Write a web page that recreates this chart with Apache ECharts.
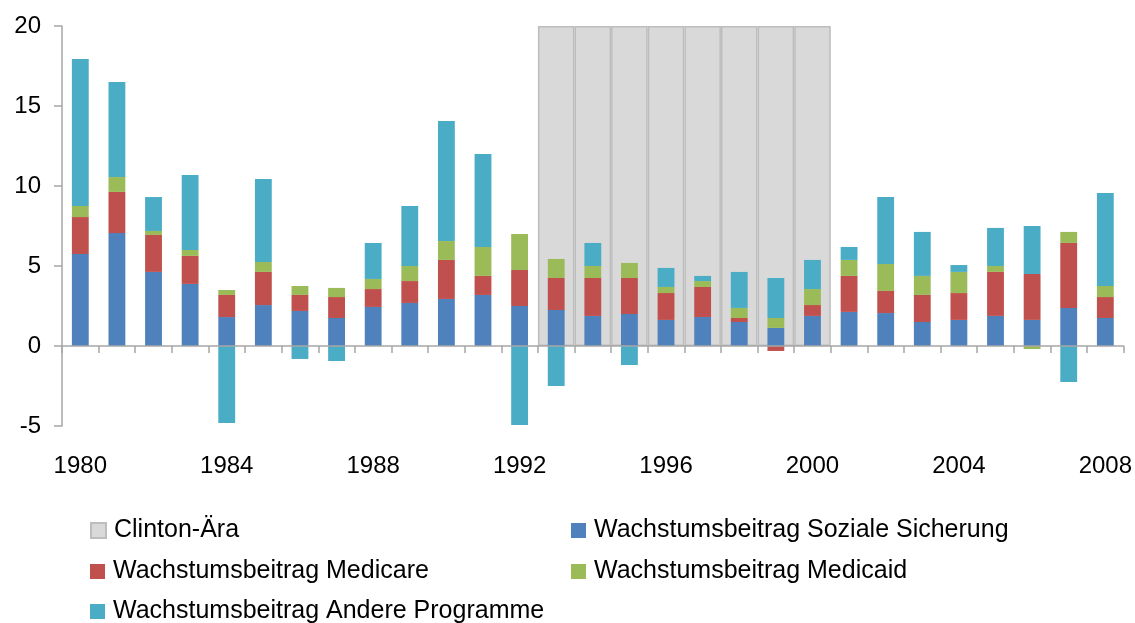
<!DOCTYPE html>
<html>
<head>
<meta charset="utf-8">
<script src="https://cdn.jsdelivr.net/npm/echarts@6/dist/echarts.min.js"></script>
<style>
  html, body { margin: 0; padding: 0; background: #fff; }
  #chart { width: 1135px; height: 623px; }
</style>
</head>
<body>
<div id="chart"></div>
<script>
// Jahre 1980 - 2008
var years = ['1980','1981','1982','1983','1984','1985','1986','1987','1988','1989',
             '1990','1991','1992','1993','1994','1995','1996','1997','1998','1999',
             '2000','2001','2002','2003','2004','2005','2006','2007','2008'];

// Clinton-Ära 1993-2000 (grauer Hintergrund)
var clintonEra = ['-','-','-','-','-','-','-','-','-','-',
                  '-','-','-',20,20,20,20,20,20,20,
                  20,'-','-','-','-','-','-','-','-'];

var sozialeSicherung = [5.75, 7.06, 4.63, 3.88, 1.81, 2.56, 2.19, 1.75, 2.44, 2.69,
                        2.94, 3.19, 2.5, 2.25, 1.88, 2.0, 1.63, 1.81, 1.5, 1.13,
                        1.88, 2.13, 2.06, 1.5, 1.63, 1.88, 1.63, 2.38, 1.75];
var medicare = [2.31, 2.57, 2.31, 1.75, 1.38, 2.07, 1.0, 1.31, 1.12, 1.37,
                2.44, 1.19, 2.25, 2.0, 2.37, 2.25, 1.68, 1.88, 0.25, -0.31,
                0.68, 2.25, 1.38, 1.69, 1.68, 2.75, 2.87, 4.06, 1.31];
var medicaid = [0.69, 0.93, 0.25, 0.37, 0.31, 0.62, 0.56, 0.57, 0.63, 0.94,
                1.18, 1.81, 2.25, 1.19, 0.75, 0.94, 0.38, 0.37, 0.63, 0.62,
                1.0, 1.0, 1.69, 1.19, 1.32, 0.37, -0.19, 0.69, 0.69];
var anderePrograme = [9.19, 5.94, 2.12, 4.69, -4.81, 5.19, -0.81, -0.94, 2.25, 3.75,
                      7.5, 5.81, -4.94, -2.5, 1.44, -1.19, 1.19, 0.32, 2.25, 2.5,
                      1.82, 0.81, 4.18, 2.75, 0.43, 2.38, 3.0, -2.25, 5.81];

var axisGrey = '#a6a6a6';
var font = 'Liberation Sans, Arial, sans-serif';

var chart = echarts.init(document.getElementById('chart'));

function stackBar(name, data, color) {
	return {
		name: name,
		type: 'bar',
		stack: 'gesamt',
		xAxisIndex: 0,
		barWidth: '46%',
		itemStyle: { color: color },
		data: data
	};
}

// ein Legendeneintrag pro Position
function legendItem(name, left, top) {
	return {
		data: [name],
		left: left, top: top,
		itemWidth: 15, itemHeight: 15,
		icon: 'rect',
		padding: 0,
		textStyle: { fontSize: 25, color: '#000', fontFamily: font, padding: [0, 0, 0, 3] }
	};
}

chart.setOption({
	animation: false,
	textStyle: { fontFamily: font },
	grid: { left: 62, right: 10, top: 26, bottom: 197, containLabel: false },
	legend: [
		legendItem('Clinton-Ära', 90, 518),
		legendItem('Wachstumsbeitrag Soziale Sicherung', 571, 518),
		legendItem('Wachstumsbeitrag Medicare', 90, 559),
		legendItem('Wachstumsbeitrag Medicaid', 571, 559),
		legendItem('Wachstumsbeitrag Andere Programme', 90, 599)
	],
	xAxis: [
		{
			// Beschriftung unten
			type: 'category',
			data: years,
			position: 'bottom',
			axisLine: { show: false, onZero: false },
			axisTick: { show: false },
			axisLabel: { interval: 3, margin: 28, fontSize: 24, color: '#000' }
		},
		{
			// Nulllinie mit Strichen
			type: 'category',
			data: years,
			position: 'bottom',
			z: 5,
			axisLine: { show: true, onZero: true, lineStyle: { color: axisGrey, width: 1.5 } },
			axisTick: { show: true, interval: 0, length: 7, lineStyle: { color: axisGrey, width: 1.5 } },
			axisLabel: { show: false }
		}
	],
	yAxis: {
		type: 'value',
		min: -5, max: 20, interval: 5,
		z: 5,
		axisLine: { show: true, lineStyle: { color: axisGrey, width: 1.5 } },
		axisTick: { show: true, length: 8, lineStyle: { color: axisGrey, width: 1.5 } },
		axisLabel: { fontSize: 24, color: '#000', margin: 21 },
		splitLine: { show: false }
	},
	series: [
		{
			name: 'Clinton-Ära',
			type: 'bar',
			xAxisIndex: 1,
			barWidth: '100%',
			z: 1,
			itemStyle: { color: '#d9d9d9', borderColor: '#bdbdbd', borderWidth: 1.5 },
			data: clintonEra
		},
		stackBar('Wachstumsbeitrag Soziale Sicherung', sozialeSicherung, '#4f81bd'),
		stackBar('Wachstumsbeitrag Medicare', medicare, '#c0504d'),
		stackBar('Wachstumsbeitrag Medicaid', medicaid, '#9bbb59'),
		stackBar('Wachstumsbeitrag Andere Programme', anderePrograme, '#4bacc6')
	]
});
</script>
</body>
</html>
